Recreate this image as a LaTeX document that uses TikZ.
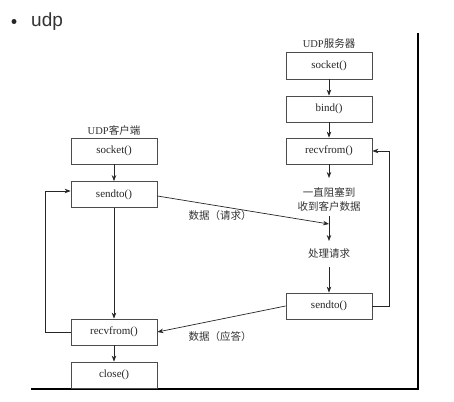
\documentclass[tikz,border=0pt]{standalone}
\usepackage{fontspec}
\setmainfont{Liberation Serif}
\newfontfamily\cjk{Noto Sans CJK SC}
\newfontfamily\sansf{Liberation Sans}
\usetikzlibrary{arrows.meta}
\begin{document}
\begin{tikzpicture}[x=1pt,y=-1pt,
  box/.style={draw=black!70, line width=0.8pt, minimum width=86pt, minimum height=26pt, inner sep=0pt, font=\fontsize{11}{12}\selectfont, text=black!85},
  lbl/.style={font=\cjk\fontsize{10.5}{13.5}\selectfont, text=black!80, inner sep=1pt},
  ln/.style={draw=black!85, line width=0.7pt},
  arr/.style={ln, -{Stealth[length=6pt,width=4.5pt]}},
  frame/.style={draw=black, line width=2pt}]
\useasboundingbox (0,0) rectangle (454,401);
\fill[white] (0,0) rectangle (454,401);
% heading
\node[circle, fill=black!85, inner sep=0pt, minimum size=5pt] (bullet) at (14,21.5) {};
\node[font=\sansf\fontsize{19}{22}\selectfont, text=black!80, anchor=base west, inner sep=0pt] (udp) at (31,27) {udp};
% frame
\coordinate (f1) at (31,389);
\coordinate (f2) at (418,389);
\coordinate (f3) at (418,33);
\draw[frame] (f1) -- (f2) -- (f3);
% server
\node[lbl] (stitle) at (329,44) {{\fontspec{Liberation Serif}UDP}服务器};
\node[box, minimum height=27pt] (ssock) at (329,65.5) {socket()};
\node[box] (sbind) at (329,109) {bind()};
\node[box] (srecv) at (329,151) {recvfrom()};
\node[lbl, align=center] (blk) at (329,199.5) {一直阻塞到\\收到客户数据};
\node[lbl] (proc) at (329,254) {处理请求};
\node[box] (ssend) at (329,306) {sendto()};
% client
\node[lbl] (ctitle) at (114,130) {{\fontspec{Liberation Serif}UDP}客户端};
\node[box] (csock) at (114,151) {socket()};
\node[box] (csend) at (114,194.5) {sendto()};
\node[box] (crecv) at (114,332) {recvfrom()};
\node[box] (cclose) at (114,375) {close()};
% message labels
\node[lbl] (req) at (220,216) {数据（请求）};
\node[lbl] (rep) at (220,337) {数据（应答）};
% server flow
\draw[arr] (ssock) -- (sbind);
\draw[arr] (sbind) -- (srecv);
\draw[arr] (srecv.south) -- (329,178);
\coordinate (jtop) at (329,216);
\coordinate (jin) at (329,224);
\draw[arr] (jtop) -- (329,241);
\draw[arr] (329,267) -- (ssend.north);
\coordinate (sr1) at (389,306);
\coordinate (sr2) at (389,151);
\draw[arr] (ssend.east) -- (sr1) -- (sr2) -- (srecv.east);
% client flow
\draw[arr] (csock) -- (csend);
\draw[arr] (csend) -- (crecv);
\draw[arr] (crecv) -- (cclose);
\coordinate (cl1) at (45,332);
\coordinate (cl2) at (45,191);
\draw[arr] (crecv.west) -- (cl1) -- (cl2) -- ([yshift=3.5pt]csend.west);
% messages
\draw[arr] ([yshift=-1.5pt]csend.east) -- (jin);
\draw[arr] (ssend.west) -- (crecv.east);
\end{tikzpicture}
\end{document}
